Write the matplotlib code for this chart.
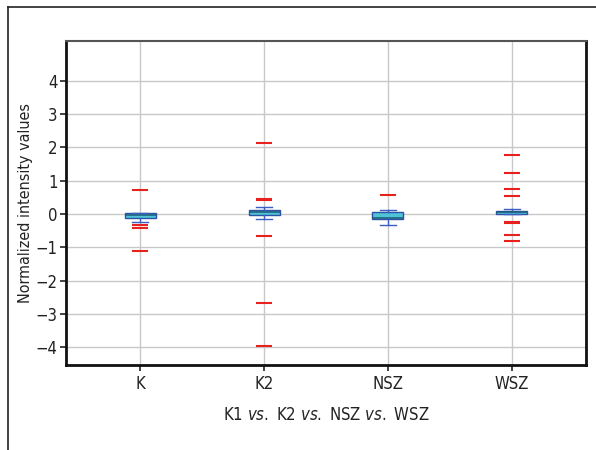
import matplotlib
matplotlib.use("Agg")
import matplotlib.pyplot as plt
import numpy as np

fam = "DejaVu Sans"
plt.rcParams['font.family'] = [fam]
plt.rcParams['font.stretch'] = 'condensed'
plt.rcParams['mathtext.fontset'] = 'custom'
plt.rcParams['mathtext.rm'] = fam + ':stretch=condensed'
plt.rcParams['mathtext.it'] = fam + ':italic:stretch=condensed'

categories = ["K", "K2", "NSZ", "WSZ"]
q1 = [-0.13, -0.03, -0.14, -0.01]
med = [-0.03, 0.05, -0.11, 0.05]
q3 = [0.02, 0.13, 0.07, 0.10]
whislo = [-0.24, -0.14, -0.34, -0.01]
whishi = [0.04, 0.21, 0.13, 0.16]
outliers = [
    [0.73, -0.32, -0.42, -1.12],
    [2.12, 0.46, 0.43, -0.65, -2.67, -3.98],
    [0.56],
    [1.78, 1.22, 0.74, 0.54, -0.24, -0.27, -0.62, -0.82],
]
yticks = [-4, -3, -2, -1, 0, 1, 2, 3, 4]

stats = []
for i, c in enumerate(categories):
    stats.append(dict(label=c, q1=q1[i], med=med[i], q3=q3[i],
                      whislo=whislo[i], whishi=whishi[i], fliers=outliers[i]))

fig = plt.figure(figsize=(5.96, 4.5), dpi=100)
ax = fig.add_axes([66/596, 1-365/450, 520/596, 324/450])

ax.bxp(stats, positions=[1, 2, 3, 4], widths=0.25, patch_artist=True,
       boxprops=dict(facecolor="#4fc4d6", edgecolor="#2d52a6", linewidth=1.0),
       medianprops=dict(color="#1e5a78", linewidth=1.1),
       whiskerprops=dict(color="#3a5fc4", linewidth=1.0),
       capprops=dict(color="#3a5fc4", linewidth=1.0),
       capwidths=0.13,
       flierprops=dict(marker="_", markeredgecolor="#e8201e", markersize=11,
                       markeredgewidth=1.5, linestyle="none"),
       zorder=3)

ax.set_xlim(0.4, 4.6)
ax.set_ylim(-4.54, 5.2)
ax.set_yticks(yticks)
ax.set_yticklabels([("\u2212" + str(-v)) if v < 0 else str(v) for v in yticks])
ax.set_xticks([1, 2, 3, 4])
ax.set_xticklabels(categories)
ax.grid(True, color="#c8c8c8", linewidth=1.0, zorder=0)
ax.set_axisbelow(True)
ax.tick_params(axis="both", labelsize=12, length=4, width=1.2, colors="#222222", direction="out")
ax.tick_params(axis="y", pad=2)
for s in ["left", "bottom", "right"]:
    ax.spines[s].set_linewidth(2.0)
    ax.spines[s].set_color("#111111")
ax.spines["top"].set_linewidth(1.5)
ax.spines["top"].set_color("#555555")

ax.set_ylabel("Normalized intensity values", fontsize=11.5, color="#222222")
ax.yaxis.set_label_coords(-0.064, 0.5)
ax.set_xlabel(r"K1 $\mathit{vs.}$ K2 $\mathit{vs.}$ NSZ $\mathit{vs.}$ WSZ", fontsize=12, color="#222222", labelpad=9)

# outer frame (top and left lines)
fig.add_artist(plt.Line2D([8/596, 1], [1-7/450, 1-7/450], color="#222222", linewidth=1.2, transform=fig.transFigure))
fig.add_artist(plt.Line2D([8/596, 8/596], [0, 1-7/450], color="#222222", linewidth=1.2, transform=fig.transFigure))

fig.savefig("out.png", dpi=100)
